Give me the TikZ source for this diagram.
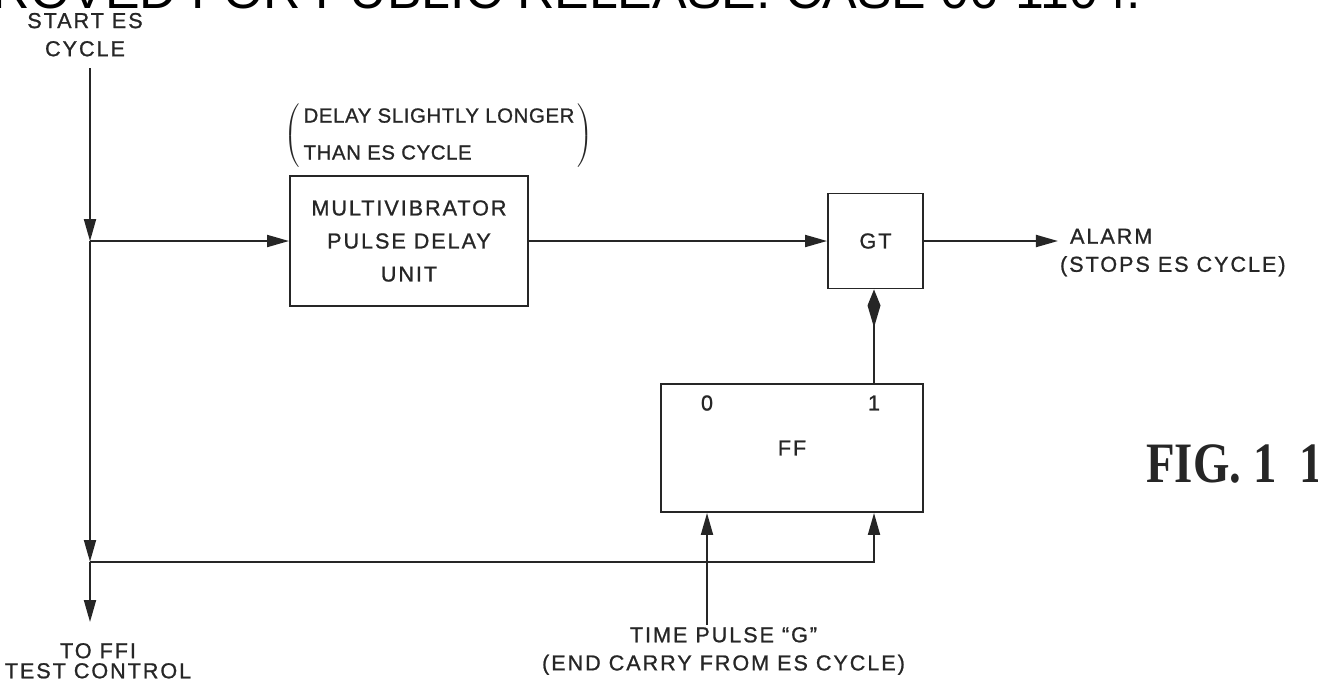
\documentclass[tikz,border=0pt]{standalone}
\usepackage{fontspec}
\usepackage{graphicx}
\newfontfamily\lblfont{Liberation Sans}[LetterSpace=9, FakeBold=1]
\newfontfamily\notefont{Liberation Sans}[LetterSpace=3, FakeBold=1]
\newfontfamily\banfont{Liberation Sans}
\newfontfamily\figfont{Liberation Serif}
\usetikzlibrary{arrows.meta, positioning, calc}
\definecolor{ink}{gray}{0.15}
\tikzset{
    diagbase/.style={font=\lblfont\fontsize{12.3}{16}\selectfont, text=ink, >={Triangle[length=0.44cm, width=0.24cm]}},
    unit/.style={rectangle, draw=ink, line width=1.1pt, align=center, inner sep=1pt},
    sigtext/.style={align=center, inner sep=1pt, text=ink},
    wire/.style={draw=ink, ->, line width=1.1pt},
}

\begin{document}
\begin{tikzpicture}[diagbase]
\useasboundingbox (0,0) rectangle (26.36,-13.64);

% ===================== HEADER =====================
\node[anchor=base west, inner sep=0pt, text=black, font=\banfont\fontsize{29.5}{30}\selectfont] (hdr) at (-0.15,-0.17) {ROVED FOR PUBLIC RELEASE. CASE 06-1104.};

% ===================== ES CYCLE LINE =====================
\coordinate (es_out) at (1.80,-1.36);
\coordinate (es_j1) at (1.80,-4.82);
\coordinate (es_j2) at (1.80,-11.24);
\coordinate (ffi_in) at (1.80,-12.44);
\node[sigtext, above=0.19cm of es_out, xshift=-0.1cm] (es_start) {START ES\\CYCLE};
\node[sigtext, below=0.38cm of ffi_in, xshift=0.16cm] (ffi) {TO FFI\\[-4.6pt]TEST CONTROL};

% ===================== DELAY + GATE =====================
\node[unit, minimum width=4.76cm, minimum height=2.60cm] (mvb) at (8.18,-4.82) {MULTIVIBRATOR\\[2.8pt]PULSE DELAY\\[2.8pt]UNIT};
\node[sigtext, above=0.1cm of mvb, xshift=0.6cm, font=\notefont\fontsize{11.6}{16}\selectfont] (mvb_note) {$\left(\,\begin{tabular}{@{}l@{}}DELAY SLIGHTLY LONGER\\[5pt]THAN ES CYCLE\end{tabular}\,\right)$};
\node[unit, minimum width=1.90cm, minimum height=1.90cm] (gt) at (17.51,-4.82) {GT};
\node[sigtext, align=left, right=2.68cm of gt, yshift=-0.23cm] (alarm) {\hspace{0.2cm}ALARM\\(STOPS ES CYCLE)};

% ===================== FLIP-FLOP =====================
\node[unit, minimum width=5.24cm, minimum height=2.56cm] (ff) at (15.84,-8.96) {FF};
\node[sigtext] (ff0) at (14.14,-8.06) {0};
\node[sigtext] (ff1) at (17.48,-8.06) {1};
\node[sigtext] (tpg) at (14.47,-13.02) {TIME PULSE “G”\\(END CARRY FROM ES CYCLE)};

\draw[wire] (es_out) -- (es_j1);
\draw[wire] (es_j1) -- (es_j2);
\draw[wire] (es_j2) -- (ffi_in);
\draw[wire] (es_j1) -- (mvb.west);
\draw[wire] (mvb.east) -- (gt.west);
\draw[wire] (gt.east) -- (gt.east -| alarm.west);
\draw[wire] (es_j2) -| (ff1 |- ff.south);
\draw[wire] (tpg.north -| ff0) -- (ff0 |- ff.south);
\draw[wire, -{Kite[length=0.76cm, width=0.26cm, inset=0.44cm]}] (ff1 |- ff.north) -- (ff1 |- gt.south);

% figure number
\node[anchor=base west, inner sep=0pt, text=ink] (fig) at (22.92,-9.64) {\scalebox{0.82}[1]{\figfont\bfseries\fontsize{32.5}{34}\selectfont FIG.~1\kern0.5em1}};

\end{tikzpicture}
\end{document}
